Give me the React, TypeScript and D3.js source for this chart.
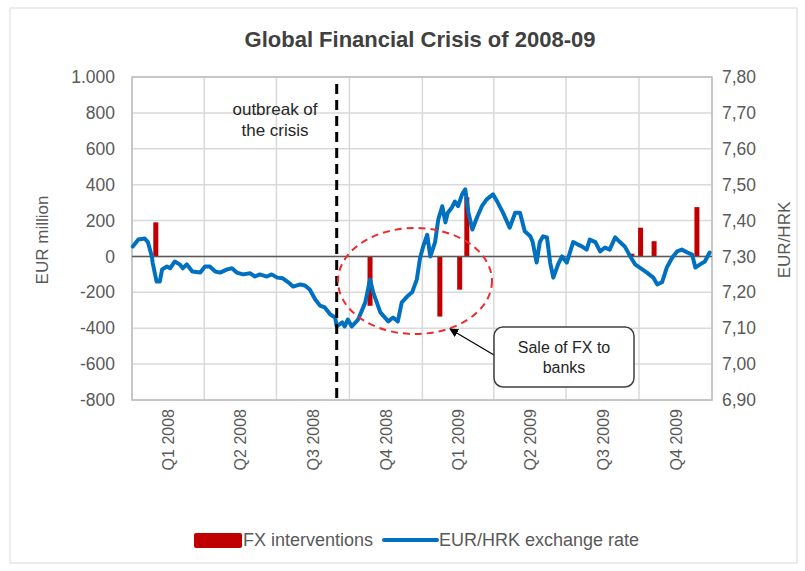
import React from "react";
import * as d3 from "d3";

const W = 805;
const H = 571;

// EUR/HRK exchange rate
const rateDates = [
  "2008-01-02","2008-01-09","2008-01-17","2008-01-21","2008-01-26","2008-01-27","2008-02-01","2008-02-05","2008-02-08","2008-02-14",
  "2008-02-18","2008-02-24","2008-03-01","2008-03-05","2008-03-10","2008-03-17","2008-03-27","2008-04-02","2008-04-08","2008-04-15",
  "2008-04-21","2008-04-30","2008-05-06","2008-05-12","2008-05-20","2008-05-29","2008-06-04","2008-06-10","2008-06-19","2008-06-25",
  "2008-07-02","2008-07-09","2008-07-16","2008-07-22","2008-07-31","2008-08-06","2008-08-12","2008-08-19","2008-08-25","2008-08-31",
  "2008-09-07","2008-09-13","2008-09-15","2008-09-22","2008-09-25","2008-09-29","2008-10-04","2008-10-12","2008-10-21","2008-10-27",
  "2008-10-31","2008-11-09","2008-11-19","2008-11-25","2008-12-01","2008-12-06","2008-12-13","2008-12-19","2008-12-25","2008-12-29",
  "2009-01-02","2009-01-07","2009-01-11","2009-01-17","2009-01-21","2009-01-26","2009-01-30","2009-02-02","2009-02-07","2009-02-11",
  "2009-02-15","2009-02-20","2009-02-24","2009-02-28","2009-03-05","2009-03-11","2009-03-17","2009-03-23","2009-03-31","2009-04-06",
  "2009-04-13","2009-04-21","2009-04-28","2009-05-04","2009-05-10","2009-05-17","2009-05-20","2009-05-25","2009-05-29","2009-06-02",
  "2009-06-07","2009-06-11","2009-06-15","2009-06-21","2009-06-26","2009-07-02","2009-07-10","2009-07-16","2009-07-21","2009-07-27",
  "2009-07-31","2009-08-07","2009-08-13","2009-08-19","2009-08-25","2009-09-01","2009-09-07","2009-09-13","2009-09-20","2009-09-26",
  "2009-10-02","2009-10-11","2009-10-19","2009-10-24","2009-10-30","2009-11-05","2009-11-12","2009-11-18","2009-11-24","2009-12-01",
  "2009-12-07","2009-12-11","2009-12-17","2009-12-23","2009-12-29"
];
const rateValues = [
  7.328,7.347,7.350,7.340,7.300,7.283,7.230,7.230,7.264,7.272,
  7.267,7.286,7.278,7.267,7.278,7.258,7.255,7.272,7.272,7.258,
  7.255,7.264,7.267,7.255,7.250,7.253,7.244,7.250,7.244,7.250,
  7.241,7.239,7.228,7.216,7.222,7.219,7.208,7.180,7.163,7.158,
  7.138,7.130,7.105,7.116,7.105,7.124,7.105,7.124,7.172,7.236,
  7.200,7.144,7.119,7.130,7.119,7.172,7.189,7.200,7.236,7.295,
  7.328,7.360,7.300,7.340,7.403,7.440,7.395,7.422,7.436,7.453,
  7.440,7.473,7.487,7.422,7.375,7.410,7.440,7.459,7.473,7.450,
  7.420,7.380,7.422,7.422,7.370,7.356,7.340,7.283,7.340,7.356,
  7.353,7.283,7.241,7.278,7.300,7.283,7.340,7.333,7.328,7.319,
  7.347,7.340,7.314,7.325,7.319,7.353,7.340,7.328,7.300,7.278,
  7.269,7.255,7.241,7.222,7.228,7.269,7.297,7.314,7.319,7.311,
  7.305,7.269,7.278,7.286,7.311
];

// FX interventions, EUR million
const fxDates = ["2008-01-31","2008-10-27","2009-01-23","2009-02-17","2009-02-26","2009-09-22","2009-10-03","2009-10-20","2009-12-13"];
const fxValues = [190, -275, -335, -185, 330, 15, 160, 85, 275];

const quarterLabels = ["Q1 2008","Q2 2008","Q3 2008","Q4 2008","Q1 2009","Q2 2009","Q3 2009","Q4 2009"];
const leftTicks = [-800,-600,-400,-200,0,200,400,600,800,1000];
const rightTicks = [6.9,7.0,7.1,7.2,7.3,7.4,7.5,7.6,7.7,7.8];

const crisisDate = "2008-09-15";

const locale = d3.formatLocale({ decimal: ",", thousands: ".", grouping: [3], currency: ["", " €"], minus: "-" });
const fmtLeft = locale.format(",.0f");
const fmtRight = locale.format(".2f");

const FONT = "'Liberation Sans', Arial, sans-serif";
const TXT = "#595959";

export default function App() {
  const px0 = 132, px1 = 712, py0 = 77, py1 = 400;
  const parse = d3.timeParse("%Y-%m-%d");
  const x = d3.scaleTime().domain([new Date(2008, 0, 1), new Date(2010, 0, 1)]).range([px0, px1]);
  const yL = d3.scaleLinear().domain([-800, 1000]).range([py1, py0]);
  const yR = d3.scaleLinear().domain([6.9, 7.8]).range([py1, py0]);
  const quarters = d3.timeMonth.every(3)!.range(new Date(2008, 0, 1), new Date(2010, 0, 2));

  const rateData = rateDates.map((d, i) => ({ d: parse(d)!, v: rateValues[i] }));
  const line = d3.line<{ d: Date; v: number }>().x((p) => x(p.d)).y((p) => yR(p.v));
  const fx = fxDates.map((d, i) => ({ d: parse(d)!, v: fxValues[i] }));
  const cx = x(parse(crisisDate)!);

  return (
    <svg width={W} height={H} style={{ position: "absolute", left: 0, top: 0, background: "#fff" }} fontFamily={FONT}>
      <defs>
        <marker id="arrow" viewBox="0 0 10 10" refX="9" refY="5" markerWidth="9" markerHeight="9" orient="auto-start-reverse" markerUnits="userSpaceOnUse">
          <path d="M0,0 L10,5 L0,10 z" fill="#000" />
        </marker>
      </defs>
      <rect x={10} y={8} width={787} height={555} fill="#fff" stroke="#d9d9d9" />
      <text x={420} y={47} textAnchor="middle" fontSize={22} fontWeight="bold" fill="#404040">Global Financial Crisis of 2008-09</text>

      {/* grid */}
      {leftTicks.map((t) => (
        <line key={"h" + t} x1={px0} x2={px1} y1={yL(t)} y2={yL(t)} stroke="#d9d9d9" strokeWidth={1.5} />
      ))}
      {quarters.map((q, i) => (
        <line key={"v" + i} x1={x(q)} x2={x(q)} y1={py0} y2={py1} stroke="#d9d9d9" strokeWidth={1.5} />
      ))}
      <rect x={px0} y={py0} width={px1 - px0} height={py1 - py0} fill="none" stroke="#bfbfbf" strokeWidth={1.5} />

      {/* axis labels */}
      {leftTicks.map((t) => (
        <text key={"l" + t} x={115} y={yL(t)} dy="0.35em" textAnchor="end" fontSize={17.5} fill={TXT}>{fmtLeft(t)}</text>
      ))}
      {rightTicks.map((t) => (
        <text key={"r" + t} x={722} y={yR(t)} dy="0.35em" textAnchor="start" fontSize={17.5} fill={TXT}>{fmtRight(t)}</text>
      ))}
      {quarterLabels.map((q, i) => {
        const mid = (x(quarters[i]) + x(quarters[i + 1])) / 2;
        return (
          <text key={q} transform={`translate(${mid + 6},${py1 + 9}) rotate(-90)`} textAnchor="end" fontSize={16} fill={TXT}>{q}</text>
        );
      })}
      <text transform={`translate(48,240) rotate(-90)`} textAnchor="middle" fontSize={17} fill={TXT}>EUR million</text>
      <text transform={`translate(790,240) rotate(-90)`} textAnchor="middle" fontSize={17} fill={TXT}>EUR/HRK</text>

      {/* bars */}
      {fx.map((b, i) => (
        <rect key={"b" + i} x={x(b.d) - 2.5} width={5} y={Math.min(yL(b.v), yL(0))} height={Math.abs(yL(b.v) - yL(0))} fill="#C00000" />
      ))}
      {/* zero line */}
      <line x1={px0} x2={px1} y1={yL(0)} y2={yL(0)} stroke="#595959" strokeWidth={1.5} />
      {/* exchange rate */}
      <path d={line(rateData)!} fill="none" stroke="#0070C0" strokeWidth={4} strokeLinejoin="round" strokeLinecap="round" />

      {/* crisis line */}
      <line x1={cx} x2={cx} y1={84} y2={py1} stroke="#000" strokeWidth={3} strokeDasharray="10,6" />
      <text x={275} y={115} textAnchor="middle" fontSize={17} fill="#262626">outbreak of</text>
      <text x={275} y={136} textAnchor="middle" fontSize={17} fill="#262626">the crisis</text>

      {/* ellipse */}
      <ellipse cx={415} cy={281} rx={77} ry={53} fill="none" stroke="#ee2a2a" strokeWidth={2} strokeDasharray="7,5" />

      {/* callout */}
      <line x1={494} y1={355} x2={450} y2={329} stroke="#000" strokeWidth={1.2} markerEnd="url(#arrow)" />
      <rect x={494} y={327} width={140} height={60} rx={9} fill="#fff" stroke="#404040" strokeWidth={1.5} />
      <text x={564} y={353} textAnchor="middle" fontSize={16} fill="#262626">Sale of FX to</text>
      <text x={564} y={373} textAnchor="middle" fontSize={16} fill="#262626">banks</text>

      {/* legend */}
      <rect x={194} y={533} width={48} height={15} rx={2} fill="#C00000" />
      <text x={243} y={546} fontSize={18} fill={TXT}>FX interventions</text>
      <line x1={384} x2={437} y1={540} y2={540} stroke="#0070C0" strokeWidth={4} strokeLinecap="round" />
      <text x={439} y={546} fontSize={18} fill={TXT}>EUR/HRK exchange rate</text>
    </svg>
  );
}
